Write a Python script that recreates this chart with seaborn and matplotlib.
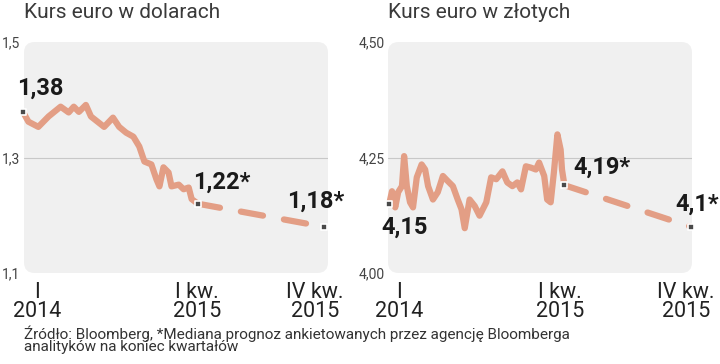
import matplotlib
matplotlib.use("Agg")
import matplotlib.pyplot as plt
from matplotlib.patches import FancyBboxPatch
import seaborn as sns
import pandas as pd

# x = weeks since start of 2014 (I kw. 2015 ~ 65, IV kw. 2015 ~ 112)
usd_weeks = [0, 1.9, 5.6, 9.4, 13.9, 16.9, 18.8, 20.7, 23.3, 25.2, 28.2, 30.1, 33.4,
             35.7, 38.3, 41.0, 43.2, 45.1, 47.7, 49.6, 50.7, 52.2, 54.1, 55.2, 57.9,
             59.7, 61.6, 62.7, 65]
usd_vals = [1.378, 1.362, 1.353, 1.371, 1.388, 1.378, 1.388, 1.379, 1.391, 1.371, 1.360,
            1.353, 1.369, 1.353, 1.343, 1.336, 1.319, 1.293, 1.288, 1.262, 1.250, 1.283,
            1.274, 1.250, 1.253, 1.245, 1.248, 1.228, 1.22]
usd_fc_weeks = [65, 112]
usd_fc_vals = [1.22, 1.18]

pln_weeks = [0, 1.0, 2.2, 3.3, 4.7, 5.5, 6.5, 7.7, 8.8, 10.2, 12.0, 13.3, 14.4, 16.2,
             18.0, 19.9, 21.7, 23.6, 25.4, 26.8, 28.0, 29.8, 31.7, 33.5, 36.0, 37.8,
             39.7, 42.0, 43.8, 45.7, 47.5, 48.9, 50.7, 52.6, 54.4, 55.6, 57.5, 58.6,
             59.9, 61.1, 62.4, 63.6, 64.1, 65]
pln_vals = [4.15, 4.177, 4.142, 4.175, 4.188, 4.253, 4.188, 4.153, 4.142, 4.207, 4.235,
            4.224, 4.188, 4.159, 4.175, 4.210, 4.199, 4.188, 4.159, 4.138, 4.097, 4.159,
            4.145, 4.124, 4.153, 4.207, 4.203, 4.220, 4.196, 4.188, 4.196, 4.181, 4.231,
            4.228, 4.224, 4.239, 4.210, 4.159, 4.153, 4.218, 4.300, 4.267, 4.224, 4.19]
pln_fc_weeks = [65, 112]
pln_fc_vals = [4.19, 4.10]

tick_labels = ["I\n2014", "I kw.\n2015", "IV kw.\n2015"]

panels = [
    dict(title="Kurs euro w dolarach", weeks=usd_weeks, vals=usd_vals,
         fc_weeks=usd_fc_weeks, fc_vals=usd_fc_vals,
         yticks=[1.1, 1.3, 1.5], ylabels=["1,1", "1,3", "1,5"],
         labels=["1,38", "1,22*", "1,18*"]),
    dict(title="Kurs euro w złotych", weeks=pln_weeks, vals=pln_vals,
         fc_weeks=pln_fc_weeks, fc_vals=pln_fc_vals,
         yticks=[4.0, 4.25, 4.5], ylabels=["4,00", "4,25", "4,50"],
         labels=["4,15", "4,19*", "4,1*"]),
]

sns.set_style("white")
plt.rcParams["font.family"] = ["Roboto", "DejaVu Sans"]

W, H = 720, 364
fig = plt.figure(figsize=(7.2, 3.64), dpi=100)
line_col = "#E39E85"

# pixel layout of each panel
layout = [
    dict(left=24, x0=23.3, scale=2.685,
         xlab=[37.5, 196.7, 315],
         ann=[(40, 88), (222, 182), (316, 201)]),
    dict(left=388, x0=389.3, scale=2.694,
         xlab=[399, 560, 686],
         ann=[(405, 227), (602, 167), (697, 204)]),
]

for p, lay in zip(panels, layout):
    ax = fig.add_axes([lay["left"] / W, (H - 273) / H, 304 / W, 231 / H])
    ax.set_facecolor("none")
    for s in ax.spines.values():
        s.set_visible(False)
    box = FancyBboxPatch((0, 0), 1, 1, boxstyle="round,pad=0,rounding_size=0.035",
                         mutation_aspect=304 / 231, transform=ax.transAxes,
                         facecolor="#F0F0F0", edgecolor="none", zorder=0)
    ax.add_patch(box)
    lo, mid, hi = p["yticks"]
    ax.set_ylim(lo, hi)
    xmin = (lay["left"] - lay["x0"]) / lay["scale"]
    ax.set_xlim(xmin, xmin + 304 / lay["scale"])
    ax.axhline(mid, color="#C8C8C8", lw=0.8, zorder=1)

    hist = pd.DataFrame({"week": p["weeks"], "val": p["vals"]})
    fc = pd.DataFrame({"week": p["fc_weeks"], "val": p["fc_vals"]})
    sns.lineplot(data=hist, x="week", y="val", ax=ax, color=line_col, lw=4.5,
                 solid_joinstyle="round", solid_capstyle="round", zorder=3, clip_on=False)
    sns.lineplot(data=fc, x="week", y="val", ax=ax, color=line_col, lw=4.5,
                 dashes=[(3.6, 3.4)], style=[0, 0], legend=False,
                 zorder=3, clip_on=False)
    ax.lines[-1].set_dash_capstyle("round")
    pts = pd.DataFrame({"week": [p["weeks"][0]] + p["fc_weeks"],
                        "val": [p["vals"][0]] + p["fc_vals"]})
    sns.scatterplot(data=pts, x="week", y="val", ax=ax, marker="s", s=24,
                    color="#4A4A4A", edgecolor="white", linewidth=1.2,
                    zorder=5, clip_on=False)

    ax.set_yticks(p["yticks"])
    ax.set_yticklabels(p["ylabels"], fontsize=10, color="#444444")
    ax.tick_params(axis="y", length=0, pad=2.5)
    ax.set_xticks([])
    ax.set_xlabel("")
    ax.set_ylabel("")

    for lab, xp in zip(tick_labels, lay["xlab"]):
        fig.text(xp / W, 1 - 282 / H, lab, ha="center", va="top", fontsize=15.5,
                 color="#222222", linespacing=0.88)
    for lab, (xp, yp) in zip(p["labels"], lay["ann"]):
        fig.text(xp / W, 1 - yp / H, lab, ha="center", va="center", fontsize=17,
                 fontweight="bold", color="#1A1A1A")
    fig.text(lay["left"] / W, 1 - 13 / H, p["title"], ha="left", va="center",
             fontsize=15, color="#3A3A3A")

fig.text(24 / W, 1 - 325 / H,
         "Źródło: Bloomberg, *Mediana prognoz ankietowanych przez agencję Bloomberga\n"
         "analityków na koniec kwartałów",
         ha="left", va="top", fontsize=11, color="#333333", linespacing=0.9)

fig.savefig("out.png", dpi=100)
